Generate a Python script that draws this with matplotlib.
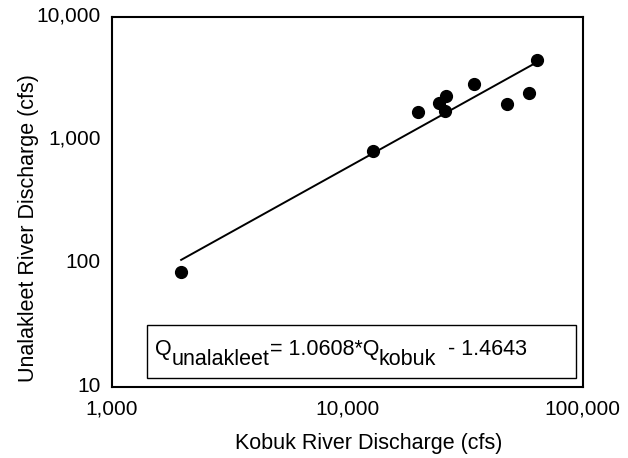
import numpy as np
import matplotlib.pyplot as plt
import matplotlib.transforms as mtransforms
from matplotlib.ticker import FixedLocator, FuncFormatter, NullLocator

# discharge pairs (cfs)
kobuk = [1970, 12900, 19900, 24600, 26200, 26100, 34400, 47500, 58900, 63700]
unalakleet = [85, 820, 1710, 2010, 2290, 1740, 2860, 1970, 2420, 4510]

# log-log regression from the equation box
slope = 1.0608
intercept = -1.4643

x_ticks = [1000, 10000, 100000]
y_ticks = [10, 100, 1000, 10000]

plt.rcParams['font.family'] = ['Liberation Sans', 'DejaVu Sans']

fig = plt.figure(figsize=(6.28, 4.58), dpi=100)
ax = fig.add_axes([0.178, 0.155, 0.750, 0.808])

ax.plot(kobuk, unalakleet, 'o', color='black', markersize=8.5, zorder=3)

# fit line over the range of the data
line_x = np.array([min(kobuk), max(kobuk)])
line_y = 10 ** (slope * np.log10(line_x) + intercept)
ax.plot(line_x, line_y, color='black', linewidth=1.4)

ax.set_xscale('log')
ax.set_yscale('log')
ax.set_xlim(x_ticks[0], x_ticks[-1])
ax.set_ylim(y_ticks[0], y_ticks[-1])

fmt = FuncFormatter(lambda v, pos: '{:,.0f}'.format(v))
ax.xaxis.set_major_locator(FixedLocator(x_ticks))
ax.yaxis.set_major_locator(FixedLocator(y_ticks))
ax.xaxis.set_major_formatter(fmt)
ax.yaxis.set_major_formatter(fmt)
ax.xaxis.set_minor_locator(NullLocator())
ax.yaxis.set_minor_locator(NullLocator())
ax.tick_params(axis='both', length=0, labelsize=15)
ax.tick_params(axis='x', pad=9)
ax.tick_params(axis='y', pad=8)

# y labels sit a touch above their gridline in the original
lift = mtransforms.ScaledTranslation(0, 3 / 100, fig.dpi_scale_trans)
for lbl in ax.get_yticklabels():
    lbl.set_transform(lbl.get_transform() + lift)

for s in ax.spines.values():
    s.set_linewidth(1.5)

# axis titles placed where the reference has them
fig.text(369 / 628, 1 - 444 / 458, 'Kobuk River Discharge (cfs)', fontsize=15.5,
         ha='center', va='center')
fig.text(29 / 628, 1 - 228 / 458, 'Unalakleet River Discharge (cfs)', fontsize=15.5,
         ha='center', va='center', rotation=90)

# equation box with chained pieces so subscripts keep full size
box_x0, box_y0 = 0.075, 0.025
box_w, box_h = 0.910, 0.143
ax.add_patch(plt.Rectangle((box_x0, box_y0), box_w, box_h, transform=ax.transAxes,
                           fill=True, facecolor='white', edgecolor='black',
                           linewidth=1.0, zorder=4))

fs = 15.5
sub = 7
pieces = [('Q', 0), ('unalakleet', -sub), ('= 1.0608*Q', sub), ('kobuk', -sub), ('  - 1.4643', sub)]
prev = ax.text(0.092, 0.073, pieces[0][0], transform=ax.transAxes, fontsize=fs,
               va='bottom', ha='left', zorder=5)
for txt, dy in pieces[1:]:
    prev = ax.annotate(txt, xy=(1, 0), xycoords=prev, xytext=(0, dy),
                       textcoords='offset points', fontsize=fs,
                       va='bottom', ha='left', zorder=5)

fig.savefig('out.png', dpi=100)
